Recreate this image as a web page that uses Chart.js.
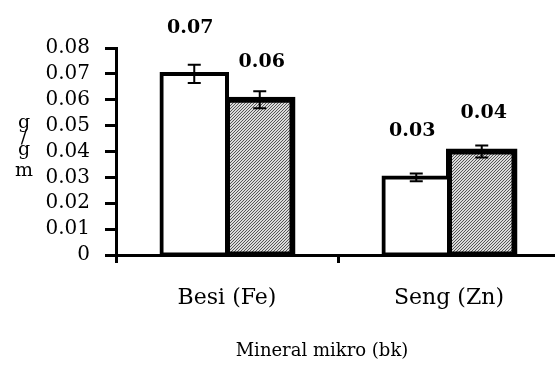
<!DOCTYPE html>
<html>
<head>
<meta charset="utf-8">
<script src="https://cdn.jsdelivr.net/npm/chart.js@4.4.1/dist/chart.umd.min.js"></script>
<style>
body{margin:0;background:#fff;overflow:hidden}
#wrap{width:560px;height:365px}
</style>
</head>
<body>
<div id="wrap"><canvas id="mineralChart" width="560" height="365"></canvas></div>
<script>
const categories = ['Besi (Fe)', 'Seng (Zn)']
const whiteValues = [0.07, 0.03]
const whiteErrors = [0.0035, 0.0015]
const hatchValues = [0.06, 0.04]
const hatchErrors = [0.0033, 0.0023]
const yTicks = [0, 0.01, 0.02, 0.03, 0.04, 0.05, 0.06, 0.07, 0.08]
const xTitle = 'Mineral mikro (bk)'
const yTitleChars = ['g', '/', 'g', 'm']

// diagonal hatch fill
const tile = document.createElement('canvas')
tile.width = 3
tile.height = 3
const tctx = tile.getContext('2d')
tctx.fillStyle = '#dadada'
tctx.fillRect(0, 0, 3, 3)
tctx.fillStyle = '#555'
tctx.fillRect(0, 2, 1, 1)
tctx.fillRect(1, 1, 1, 1)
tctx.fillRect(2, 0, 1, 1)
const hatch = tctx.createPattern(tile, 'repeat')

const serif = 'DejaVu Serif'

const extrasPlugin = {
    id: 'extras',
    afterDatasetsDraw(chart){
        const ctx = chart.ctx
        const yScale = chart.scales.y
        const area = chart.chartArea
        ctx.save()
        chart.data.datasets.forEach((ds, di) => {
            const meta = chart.getDatasetMeta(di)
            meta.data.forEach((bar, i) => {
                let v = ds.data[i]
                let e = ds.errors[i]
                let top = yScale.getPixelForValue(v + e)
                let bot = yScale.getPixelForValue(v - e)
                ctx.strokeStyle = '#000'
                ctx.lineWidth = 2
                ctx.beginPath()
                ctx.moveTo(bar.x, top)
                ctx.lineTo(bar.x, bot)
                ctx.moveTo(bar.x - 6.5, top)
                ctx.lineTo(bar.x + 6.5, top)
                ctx.moveTo(bar.x - 6.5, bot)
                ctx.lineTo(bar.x + 6.5, bot)
                ctx.stroke()
                ctx.fillStyle = '#000'
                ctx.font = 'bold 19px "' + serif + '"'
                ctx.textAlign = 'center'
                ctx.textBaseline = 'middle'
                ctx.fillText(v.toFixed(2), bar.x + ds.labelDx, bar.y - ds.labelOffset)
            })
        })
        // axis titles
        ctx.fillStyle = '#000'
        ctx.font = '18px "' + serif + '"'
        ctx.textAlign = 'center'
        ctx.textBaseline = 'middle'
        ctx.fillText(xTitle, (area.left + area.right) / 2 - 16, 351)
        ctx.font = '19px "' + serif + '"'
        ctx.textBaseline = 'alphabetic'
        let cy = (area.top + area.bottom) / 2
        let shifts = [-24, -9, 3, 24]
        yTitleChars.forEach((c, i) => ctx.fillText(c, 24, cy + shifts[i]))
        ctx.restore()
    }
}

let mineralChart = new Chart(document.getElementById('mineralChart').getContext('2d'), {
    type: 'bar',
    data:{
        labels: categories,
        datasets:[{
            data: whiteValues,
            errors: whiteErrors,
            labelOffset: 46,
            labelDx: -4,
            backgroundColor: '#fff',
            borderColor: '#000',
            borderWidth: 4,
            inflateAmount: 2,
            borderSkipped: false
        },{
            data: hatchValues,
            errors: hatchErrors,
            labelOffset: 38,
            labelDx: 2,
            backgroundColor: hatch,
            borderColor: '#000',
            borderWidth: 6,
            inflateAmount: 3,
            borderSkipped: false
        }]
    },
    options:{
        responsive: false,
        animation: false,
        layout: {padding: {top: 48, left: 0, right: 0, bottom: 0}},
        datasets: {bar: {barPercentage: 1, categoryPercentage: 0.59}},
        plugins: {legend: {display: false}, tooltip: {enabled: false}},
        scales: {
            x: {
                grid: {drawOnChartArea: false, offset: true, tickLength: 8, tickWidth: 3, tickColor: '#000'},
                border: {display: true, color: '#000', width: 3},
                ticks: {color: '#000', padding: 22, font: {family: serif, size: 22}},
                afterFit(scale){ scale.height = 110 }
            },
            y: {
                min: 0,
                max: 0.08,
                afterBuildTicks(scale){ scale.ticks = yTicks.map(v => ({value: v})) },
                grid: {drawOnChartArea: false, tickLength: 11, tickWidth: 3, tickColor: '#000'},
                border: {display: true, color: '#000', width: 3},
                ticks: {
                    color: '#000',
                    padding: 15,
                    autoSkip: false,
                    font: {family: serif, size: 20},
                    callback: v => v === 0 ? '0' : v.toFixed(2)
                },
                afterFit(scale){ scale.width = 116 }
            }
        }
    },
    plugins: [extrasPlugin]
})
</script>
</body>
</html>
